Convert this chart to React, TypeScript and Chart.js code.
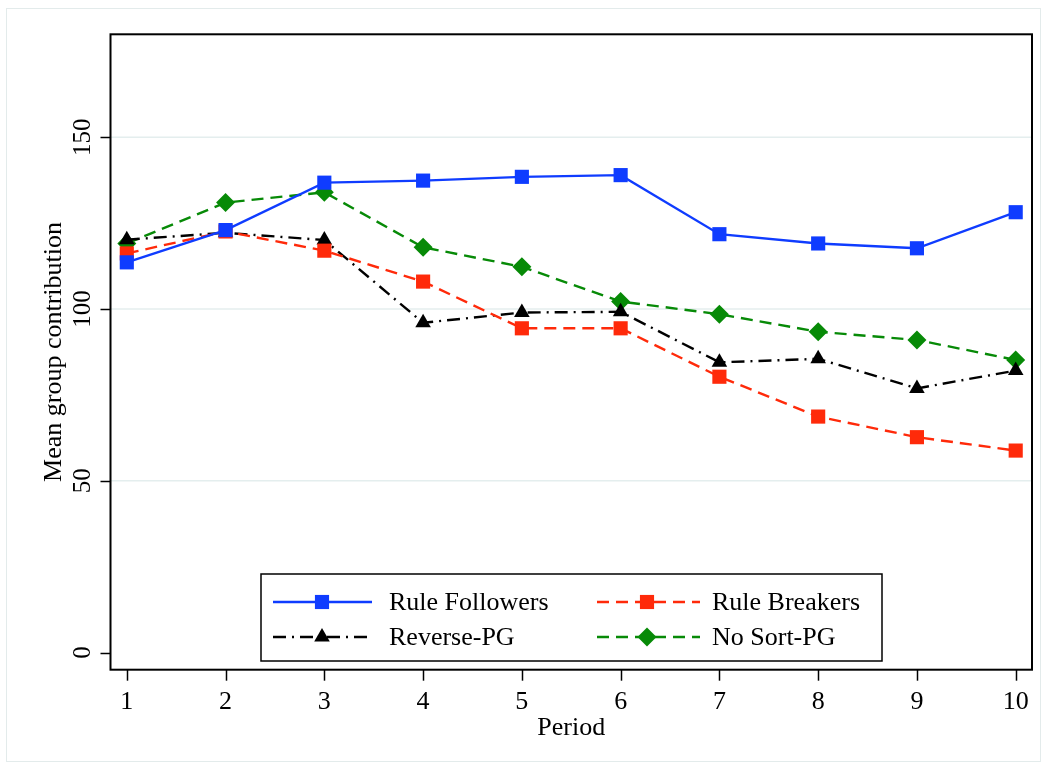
import React, { useEffect, useRef } from 'react';
import { Chart, registerables } from 'chart.js';

Chart.register(...registerables);

const periods = [1, 2, 3, 4, 5, 6, 7, 8, 9, 10];
const ruleFollowers = [113.6, 123.0, 136.8, 137.4, 138.5, 139.0, 121.8, 119.1, 117.7, 128.2];
const ruleBreakers = [116.2, 122.6, 117.0, 108.0, 94.4, 94.4, 80.3, 68.7, 62.7, 58.8];
const reversePG = [120.2, 122.2, 120.1, 96.0, 99.0, 99.2, 84.5, 85.5, 76.9, 82.1];
const noSortPG = [119.1, 131.0, 134.0, 118.0, 112.3, 102.2, 98.5, 93.4, 91.0, 85.2];

const seriesNames = ['Rule Followers', 'Rule Breakers', 'Reverse-PG', 'No Sort-PG'];
const yTickValues = [0, 50, 100, 150];
const yGridValues = [50, 100, 150];
const xTickValues = periods;
const xTitle = 'Period';
const yTitle = 'Mean group contribution';

const W = 1047;
const H = 770;
const FONT = '"Liberation Serif", "Times New Roman", serif';

const BLUE = '#0f3cff';
const RED = '#ff2a0a';
const BLACK = '#000000';
const GREEN = '#078a07';

const styles = [
  { color: BLUE, dash: [] as number[], point: 'rect', radius: 10 },
  { color: RED, dash: [12, 7], point: 'rect', radius: 10 },
  { color: BLACK, dash: [13, 6, 2, 6], point: 'triangle', radius: 9 },
  { color: GREEN, dash: [12, 7], point: 'rectRot', radius: 9.5 },
];

function drawMarker(ctx: CanvasRenderingContext2D, kind: string, x: number, y: number, r: number, color: string) {
  ctx.save();
  ctx.fillStyle = color;
  ctx.setLineDash([]);
  ctx.beginPath();
  if (kind === 'rect') {
    const s = Math.SQRT1_2 * r;
    ctx.rect(x - s, y - s, 2 * s, 2 * s);
  } else if (kind === 'triangle') {
    const a = (2 * Math.PI) / 3;
    ctx.moveTo(x, y - r);
    ctx.lineTo(x + Math.sin(a) * r, y - Math.cos(a) * r);
    ctx.lineTo(x + Math.sin(2 * a) * r, y - Math.cos(2 * a) * r);
    ctx.closePath();
  } else {
    ctx.moveTo(x, y - r);
    ctx.lineTo(x + r, y);
    ctx.lineTo(x, y + r);
    ctx.lineTo(x - r, y);
    ctx.closePath();
  }
  ctx.fill();
  ctx.restore();
}

const stataPlugin = {
  id: 'stataPlugin',
  beforeDraw(chart: any) {
    const ctx: CanvasRenderingContext2D = chart.ctx;
    const { left, right } = chart.chartArea;
    const ys = chart.scales.y;
    ctx.save();
    ctx.fillStyle = '#ffffff';
    ctx.fillRect(0, 0, W, H);
    ctx.strokeStyle = '#e3ebeb';
    ctx.lineWidth = 1;
    ctx.strokeRect(6.5, 8.5, 1034, 753);
    ctx.strokeStyle = '#e4eeee';
    ctx.lineWidth = 1.5;
    yGridValues.forEach((v) => {
      const py = ys.getPixelForValue(v);
      ctx.beginPath();
      ctx.moveTo(left, py);
      ctx.lineTo(right, py);
      ctx.stroke();
    });
    ctx.restore();
  },
  afterDraw(chart: any) {
    const ctx: CanvasRenderingContext2D = chart.ctx;
    const { left, right, top, bottom } = chart.chartArea;
    const xs = chart.scales.x;
    const ys = chart.scales.y;
    ctx.save();
    // plot frame
    ctx.strokeStyle = '#000';
    ctx.lineWidth = 2;
    ctx.setLineDash([]);
    ctx.strokeRect(left, top, right - left, bottom - top);
    // ticks
    ctx.lineWidth = 1.5;
    xTickValues.forEach((v) => {
      const px = Math.round(xs.getPixelForValue(v)) + 0.5;
      ctx.beginPath();
      ctx.moveTo(px, bottom);
      ctx.lineTo(px, bottom + 11);
      ctx.stroke();
    });
    yTickValues.forEach((v) => {
      const py = Math.round(ys.getPixelForValue(v)) + 0.5;
      ctx.beginPath();
      ctx.moveTo(left, py);
      ctx.lineTo(left - 10, py);
      ctx.stroke();
    });
    // labels
    ctx.fillStyle = '#000';
    ctx.font = `26px ${FONT}`;
    ctx.textAlign = 'center';
    ctx.textBaseline = 'alphabetic';
    xTickValues.forEach((v) => {
      ctx.fillText(String(v), xs.getPixelForValue(v), 709);
    });
    ctx.font = `25px ${FONT}`;
    yTickValues.forEach((v) => {
      ctx.save();
      ctx.translate(90, ys.getPixelForValue(v));
      ctx.rotate(-Math.PI / 2);
      ctx.fillText(String(v), 0, 0);
      ctx.restore();
    });
    ctx.font = `26px ${FONT}`;
    ctx.fillText(xTitle, (left + right) / 2, 735);
    ctx.save();
    ctx.translate(61, (top + bottom) / 2);
    ctx.rotate(-Math.PI / 2);
    ctx.fillText(yTitle, 0, 0);
    ctx.restore();

    // legend
    const lx = 261, ly = 574, lw = 621, lh = 87;
    ctx.fillStyle = '#fff';
    ctx.fillRect(lx, ly, lw, lh);
    ctx.strokeStyle = '#000';
    ctx.lineWidth = 1.5;
    ctx.strokeRect(lx, ly, lw, lh);
    const cols = [
      { x0: 273, x1: 372, mx: 322, tx: 389 },
      { x0: 597, x1: 700, mx: 647, tx: 712 },
    ];
    const rows = [602, 637];
    chart.data.datasets.forEach((ds: any, i: number) => {
      const c = cols[i % 2];
      const ry = rows[Math.floor(i / 2)];
      const st = styles[i];
      ctx.save();
      ctx.strokeStyle = st.color;
      ctx.lineWidth = 2.4;
      ctx.setLineDash(st.dash);
      ctx.beginPath();
      ctx.moveTo(c.x0, ry);
      ctx.lineTo(c.x1, ry);
      ctx.stroke();
      ctx.restore();
      drawMarker(ctx, st.point, c.mx, ry, st.radius, st.color);
      ctx.fillStyle = '#000';
      ctx.font = `26px ${FONT}`;
      ctx.textAlign = 'left';
      ctx.textBaseline = 'middle';
      ctx.fillText(ds.label, c.tx, ry + 1);
    });
    ctx.restore();
  },
};

export default function App() {
  const ref = useRef<HTMLCanvasElement | null>(null);
  useEffect(() => {
    if (!ref.current) return;
    const all = [ruleFollowers, ruleBreakers, reversePG, noSortPG];
    const chart = new Chart(ref.current, {
      type: 'line',
      data: {
        datasets: all.map((vals, i) => ({
          label: seriesNames[i],
          data: periods.map((p, j) => ({ x: p, y: vals[j] })),
          borderColor: styles[i].color,
          backgroundColor: styles[i].color,
          borderWidth: 2.4,
          borderDash: styles[i].dash,
          pointStyle: styles[i].point as any,
          pointRadius: styles[i].radius,
          pointBorderWidth: 0,
          pointBackgroundColor: styles[i].color,
          tension: 0,
          fill: false,
          clip: false as any,
        })),
      },
      options: {
        animation: false,
        responsive: false,
        devicePixelRatio: 1,
        layout: { padding: { left: 110.5, top: 34.3, right: 15, bottom: 100.3 } },
        plugins: { legend: { display: false }, tooltip: { enabled: false } },
        scales: {
          x: { type: 'linear', min: 0.835, max: 10.165, display: false },
          y: { type: 'linear', min: -5, max: 180, display: false },
        },
      },
      plugins: [stataPlugin],
    });
    return () => chart.destroy();
  }, []);
  return (
    <div style={{ position: 'fixed', left: 0, top: 0, width: W, height: H }}>
      <canvas ref={ref} width={W} height={H} style={{ width: W, height: H, display: 'block' }} />
    </div>
  );
}
